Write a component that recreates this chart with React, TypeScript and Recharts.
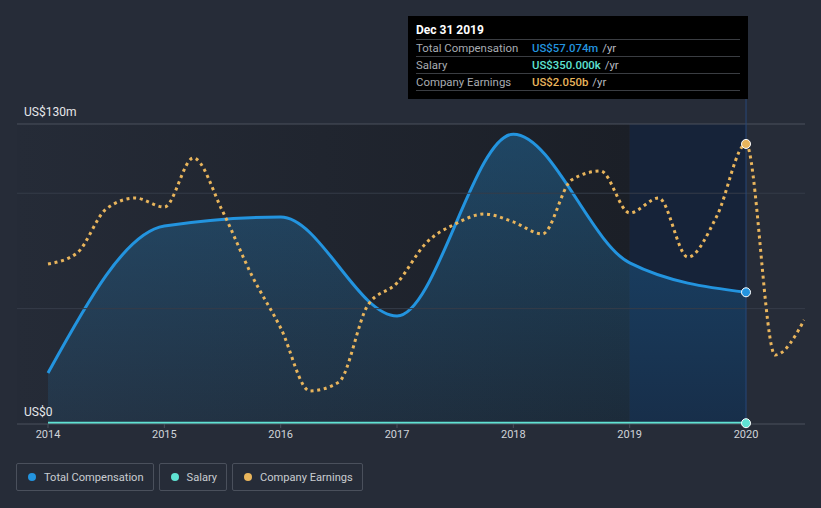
import { ComposedChart, Area, Line, XAxis, YAxis, ReferenceArea, ReferenceLine, ReferenceDot } from 'recharts';

// total compensation (US$m), yearly
const compYears = [2014, 2015, 2016, 2017, 2018, 2019, 2020];
const compValues = [22.1, 85.8, 89.7, 46.8, 125.6, 69.8, 57.074];

// salary (US$m)
const salaryValues = [0.35, 0.35, 0.35, 0.35, 0.35, 0.35, 0.35];

// company earnings (US$b), quarterly
const earningsX = [
  2014, 2014.25, 2014.5, 2014.75, 2015, 2015.25, 2015.5, 2015.75,
  2016, 2016.25, 2016.5, 2016.75, 2017, 2017.25, 2017.5, 2017.75,
  2018, 2018.25, 2018.5, 2018.75, 2019, 2019.25, 2019.5, 2019.75,
  2020, 2020.25, 2020.5,
];
const earningsValues = [
  1.171, 1.252, 1.574, 1.654, 1.588, 1.947, 1.559, 1.091,
  0.703, 0.242, 0.307, 0.871, 1.032, 1.325, 1.464, 1.537,
  1.479, 1.391, 1.786, 1.852, 1.545, 1.654, 1.222, 1.523,
  2.05, 0.505, 0.761,
];

const yearTicks = [2014, 2015, 2016, 2017, 2018, 2019, 2020];

const BLUE = '#2394df';
const TEAL = '#5fe3d3';
const ORANGE = '#e9b55c';
const FONT = 'Roboto, "Open Sans", sans-serif';

const compData = compYears.map((x, i) => ({ x, comp: compValues[i], salary: salaryValues[i] }));
const earningsData = earningsX.map((x, i) => ({ x, earnings: earningsValues[i] }));

const tooltipRows = [
  { label: 'Total Compensation', value: 'US$57.074m', color: BLUE },
  { label: 'Salary', value: 'US$350.000k', color: TEAL },
  { label: 'Company Earnings', value: 'US$2.050b', color: ORANGE },
];

const legendItems = [
  { label: 'Total Compensation', color: BLUE },
  { label: 'Salary', color: TEAL },
  { label: 'Company Earnings', color: ORANGE },
];

const axisLabel = (text: string) => (props: any) => {
  const vb = props.viewBox || {};
  return (
    <text x={(vb.x ?? 17) + 7} y={vb.y - 8} fill="#e6e8eb" fontSize={12} fontFamily={FONT}>
      {text}
    </text>
  );
};

export default function App() {
  return (
    <div style={{ position: 'absolute', left: 0, top: 0, width: 821, height: 508, background: '#262c38', fontFamily: FONT, overflow: 'hidden' }}>
      <ComposedChart width={821} height={508} margin={{ top: 124, right: 16, bottom: 64, left: 17 }}>
        <defs>
          <linearGradient id="pastBg" x1="0" y1="0" x2="1" y2="0">
            <stop offset="0%" stopColor="#252b37" />
            <stop offset="100%" stopColor="#1b1f27" />
          </linearGradient>
          <linearGradient id="compFill" x1="0" y1="0" x2="0" y2="1">
            <stop offset="0%" stopColor={BLUE} stopOpacity={0.32} />
            <stop offset="100%" stopColor={BLUE} stopOpacity={0.1} />
          </linearGradient>
        </defs>
        <XAxis
          type="number"
          dataKey="x"
          domain={[2013.7335, 2020.507]}
          ticks={yearTicks}
          allowDataOverflow
          height={20}
          tick={{ fill: '#d0d4da', fontSize: 11, fontFamily: FONT }}
          tickSize={4}
          axisLine={{ stroke: '#4a505c' }}
          tickLine={{ stroke: '#4a505c' }}
        />
        <YAxis yAxisId="comp" hide domain={[0, 130]} allowDataOverflow />
        <YAxis yAxisId="earn" hide orientation="right" domain={[0, 2.196]} allowDataOverflow />

        <ReferenceArea yAxisId="comp" x1={2013.7335} x2={2019} y1={0} y2={130} fill="url(#pastBg)" fillOpacity={1} stroke="none" />
        <ReferenceArea yAxisId="comp" x1={2019} x2={2020} y1={0} y2={130} fill="#162339" fillOpacity={1} stroke="none" />

        <ReferenceLine yAxisId="comp" y={50} stroke="#353c48" strokeWidth={1} />
        <ReferenceLine yAxisId="comp" y={100} stroke="#353c48" strokeWidth={1} />
        <ReferenceLine yAxisId="comp" y={130} stroke="#4a505c" strokeWidth={1} label={axisLabel('US$130m')} />
        <ReferenceLine yAxisId="comp" y={0} stroke="none" label={axisLabel('US$0')} />

        <Area
          yAxisId="comp"
          data={compData}
          dataKey="comp"
          type="monotone"
          stroke={BLUE}
          strokeWidth={3}
          fill="url(#compFill)"
          fillOpacity={1}
          dot={false}
          activeDot={false}
          isAnimationActive={false}
        />
        <Line
          yAxisId="comp"
          data={compData}
          dataKey="salary"
          type="monotone"
          stroke={TEAL}
          strokeWidth={3}
          dot={false}
          activeDot={false}
          isAnimationActive={false}
        />
        <Line
          yAxisId="earn"
          data={earningsData}
          dataKey="earnings"
          type="monotone"
          stroke={ORANGE}
          strokeWidth={3}
          strokeDasharray="3 3.7"
          dot={false}
          activeDot={false}
          isAnimationActive={false}
        />

        <ReferenceLine
          yAxisId="comp"
          segment={[{ x: 2020, y: 0 }, { x: 2020, y: 141 }]}
          stroke="#284878"
          strokeWidth={1}
          ifOverflow="visible"
        />
        <ReferenceDot yAxisId="comp" x={2020} y={compValues[6]} r={4.5} fill={BLUE} stroke="#ffffff" strokeWidth={1} />
        <ReferenceDot yAxisId="comp" x={2020} y={salaryValues[6]} r={4.5} fill={TEAL} stroke="#ffffff" strokeWidth={1} ifOverflow="visible" />
        <ReferenceDot yAxisId="earn" x={2020} y={earningsValues[24]} r={4.5} fill={ORANGE} stroke="#ffffff" strokeWidth={1} />
      </ComposedChart>

      {/* tooltip box */}
      <div style={{ position: 'absolute', left: 408, top: 16, width: 340, height: 83, background: '#000', boxSizing: 'border-box', padding: '6px 8px 0 8px' }}>
        <div style={{ color: '#fff', fontWeight: 700, fontSize: 12, lineHeight: '17px', borderBottom: '1px solid #3a3d42' }}>Dec 31 2019</div>
        {tooltipRows.map((r) => (
          <div key={r.label} style={{ display: 'flex', fontSize: 11.4, lineHeight: '16px', borderBottom: '1px solid #3a3d42' }}>
            <span style={{ width: 116, color: '#a8acb2' }}>{r.label}</span>
            <span style={{ color: r.color, fontWeight: 500 }}>{r.value}</span>
            <span style={{ color: '#b8bbc0', marginLeft: 4 }}>/yr</span>
          </div>
        ))}
      </div>

      {/* legend */}
      <div style={{ position: 'absolute', left: 16, top: 463, display: 'flex', gap: 5 }}>
        {legendItems.map((it) => (
          <div key={it.label} style={{ height: 28, boxSizing: 'border-box', border: '1px solid #4a505c', borderRadius: 2, display: 'flex', alignItems: 'center', padding: '0 9px 0 11px', color: '#c9ccd1', fontSize: 11.1 }}>
            <span style={{ width: 8, height: 8, borderRadius: 4, background: it.color, marginRight: 8 }} />
            {it.label}
          </div>
        ))}
      </div>
    </div>
  );
}
